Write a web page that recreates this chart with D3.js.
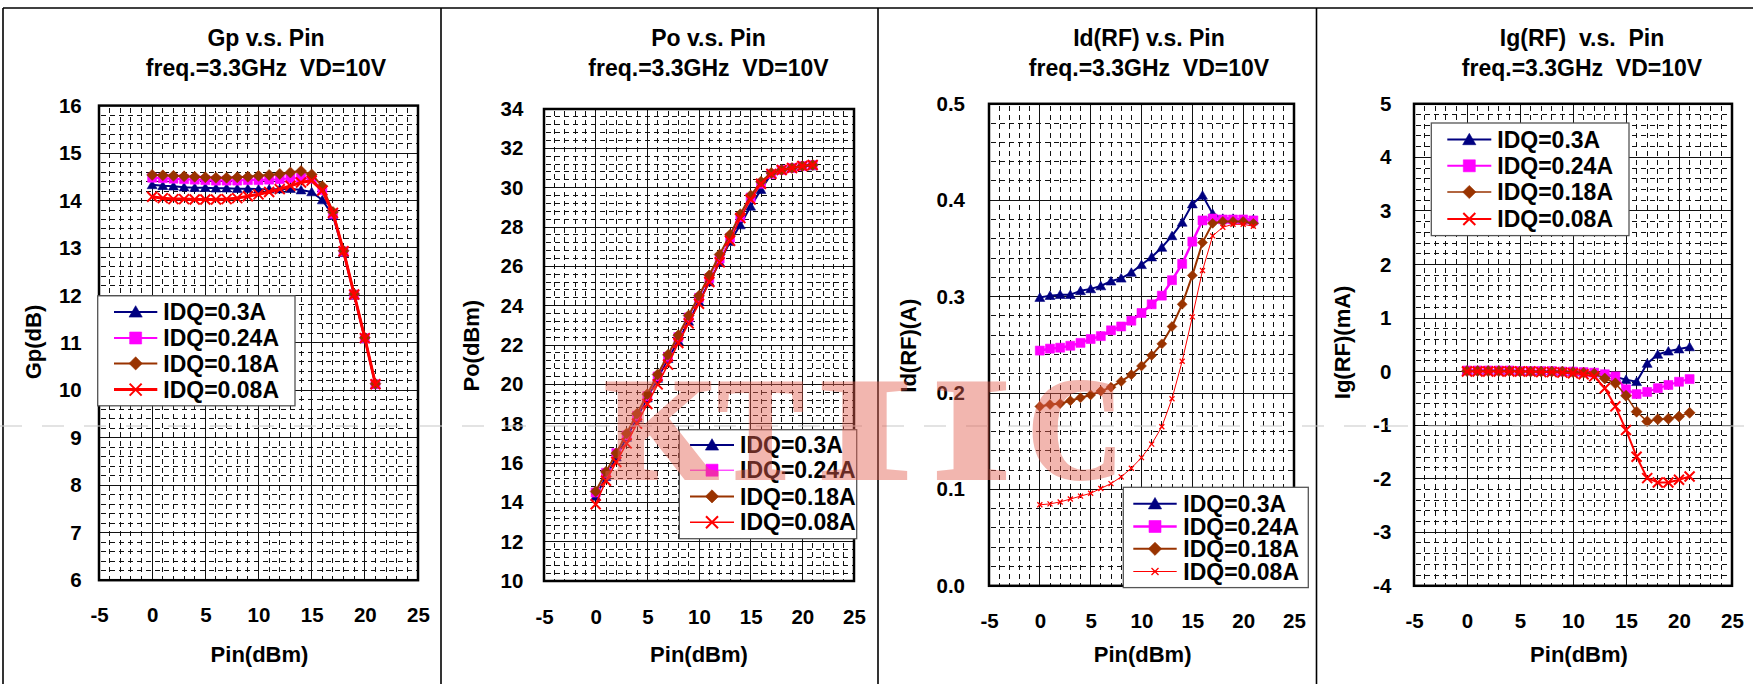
<!DOCTYPE html>
<html><head>
<meta charset="UTF-8">
<script src="https://cdn.jsdelivr.net/npm/d3@7"></script>
<title>IDQ sweep 3.3GHz</title>
<style>
body{margin:0;background:#fff}
svg text{font-family:"Liberation Sans",Arial,sans-serif;font-weight:bold;fill:#000;white-space:pre}
</style>
<script>
// ---- data ----
var pin = [0,1,2,3,4,5,6,7,8,9,10,11,12,13,14,15,16,17,18,19,20,21];
var idqNames = ["IDQ=0.3A","IDQ=0.24A","IDQ=0.18A","IDQ=0.08A"];

var gp03  = [14.33,14.31,14.30,14.28,14.27,14.27,14.26,14.26,14.25,14.25,14.24,14.24,14.24,14.25,14.22,14.18,14.01,13.68,12.90,12.00,11.08,10.12];
var gp024 = [14.48,14.47,14.46,14.45,14.44,14.43,14.42,14.42,14.42,14.43,14.43,14.44,14.45,14.47,14.48,14.46,14.22,13.72,12.93,12.02,11.10,10.13];
var gp018 = [14.54,14.53,14.52,14.51,14.50,14.49,14.48,14.48,14.49,14.50,14.52,14.54,14.56,14.59,14.62,14.55,14.30,13.76,12.94,12.03,11.11,10.14];
var gp008 = [14.08,14.05,14.03,14.03,14.02,14.02,14.02,14.03,14.05,14.09,14.13,14.18,14.24,14.31,14.38,14.42,14.21,13.74,12.93,12.02,11.10,10.13];

var po03  = [14.3,15.3,16.3,17.3,18.3,19.3,20.3,21.3,22.2,23.2,24.2,25.2,26.2,27.25,28.1,29.05,29.9,30.7,30.9,31.0,31.1,31.1];
var po024 = [14.5,15.5,16.5,17.4,18.4,19.4,20.4,21.4,22.4,23.4,24.4,25.4,26.4,27.45,28.5,29.5,30.2,30.7,30.9,31.0,31.1,31.15];
var po018 = [14.55,15.55,16.5,17.5,18.5,19.5,20.5,21.5,22.5,23.5,24.5,25.55,26.6,27.6,28.65,29.6,30.3,30.75,30.9,31.0,31.1,31.15];
var po008 = [13.9,15.1,16.05,17.0,18.0,19.0,20.0,21.0,22.1,23.1,24.1,25.2,26.2,27.3,28.45,29.4,30.2,30.7,30.9,31.0,31.1,31.15];

var id03  = [0.299,0.301,0.302,0.302,0.306,0.308,0.311,0.316,0.319,0.325,0.333,0.341,0.351,0.363,0.377,0.396,0.405,0.386,0.381,0.381,0.380,0.380];
var id024 = [0.244,0.246,0.247,0.249,0.252,0.256,0.259,0.265,0.269,0.275,0.283,0.292,0.301,0.317,0.334,0.357,0.379,0.381,0.380,0.380,0.380,0.379];
var id018 = [0.186,0.188,0.189,0.192,0.195,0.198,0.202,0.206,0.212,0.219,0.228,0.239,0.251,0.269,0.292,0.322,0.356,0.376,0.378,0.378,0.378,0.376];
var id008 = [0.084,0.085,0.087,0.090,0.093,0.096,0.101,0.106,0.113,0.122,0.133,0.147,0.165,0.194,0.233,0.279,0.327,0.363,0.372,0.375,0.375,0.373];

var ig03  = [0.02,0.02,0.02,0.02,0.02,0.01,0.01,0.01,0.01,0.0,0.0,-0.01,-0.02,-0.05,-0.10,-0.15,-0.19,0.15,0.32,0.38,0.42,0.46];
var ig024 = [0.02,0.02,0.02,0.02,0.02,0.01,0.01,0.01,0.01,0.0,0.0,-0.01,-0.02,-0.05,-0.09,-0.33,-0.42,-0.38,-0.31,-0.25,-0.19,-0.14];
var ig018 = [0.01,0.01,0.01,0.01,0.01,0.0,0.0,0.0,0.0,0.0,-0.01,-0.02,-0.04,-0.13,-0.22,-0.45,-0.75,-0.93,-0.89,-0.88,-0.84,-0.77];
var ig008 = [0.0,0.0,0.0,0.0,0.0,0.0,0.0,-0.01,-0.01,-0.02,-0.03,-0.05,-0.09,-0.31,-0.65,-1.09,-1.59,-1.99,-2.07,-2.07,-2.02,-1.96];

var xTicks  = [-5,0,5,10,15,20,25];
var gpTicks = [6,7,8,9,10,11,12,13,14,15,16];
var poTicks = [10,12,14,16,18,20,22,24,26,28,30,32,34];
var idTicks = [0.0,0.1,0.2,0.3,0.4,0.5];
var igTicks = [-4,-3,-2,-1,0,1,2,3,4,5];

var colors  = ["#000080","#ff00ff","#993300","#ff0000"];
var markers = ["triangle","square","diamond","x"];
</script>
</head>
<body>
<svg id="vis" width="1753" height="684"></svg>
<script>
var svg = d3.select("#vis");
svg.append("rect").attr("width",1753).attr("height",684).attr("fill","#fff");

// marker shapes centred on 0,0
function markerPath(type, s){
	var h = s/2;
	if(type=="triangle") return "M0,"+(-h*1.05)+"L"+(h*1.1)+","+(h*0.85)+"L"+(-h*1.1)+","+(h*0.85)+"Z";
	if(type=="square") return "M"+(-h)+","+(-h)+"H"+h+"V"+h+"H"+(-h)+"Z";
	if(type=="diamond") return "M0,"+(-h*1.1)+"L"+(h*1.1)+",0L0,"+(h*1.1)+"L"+(-h*1.1)+",0Z";
	return "M"+(-h)+","+(-h)+"L"+h+","+h+"M"+h+","+(-h)+"L"+(-h)+","+h;
}

function drawMarker(g, type, s, color, sw, cx, cy){
	var m = g.append("path").attr("d", markerPath(type,s))
		.attr("transform","translate("+cx+","+cy+")");
	if(type=="x") m.attr("fill","none").attr("stroke",color).attr("stroke-width",sw);
	else m.attr("fill",color).attr("stroke",color).attr("stroke-width",0.6);
}

function fmtNum(dec){
	return function(d){ return dec ? d.toFixed(dec) : String(d); };
}

function drawPanel(p){
	var g = svg.append("g");
	var x = d3.scaleLinear().domain([-5,25]).range([p.left,p.right]);
	var y = d3.scaleLinear().domain([p.yTicks[0], p.yTicks[p.yTicks.length-1]]).range([p.bottom,p.top]);

	// minor grid (dashed), 5 subdivisions each way
	var minorX = d3.range(-5,25,1).filter(function(d){ return d%5!=0; });
	var ySt = (p.yTicks[1]-p.yTicks[0])/5;
	var nY = Math.round((p.yTicks[p.yTicks.length-1]-p.yTicks[0])/ySt);
	var minorY = d3.range(1,nY).filter(function(k){ return k%5!=0; }).map(function(k){ return p.yTicks[0]+k*ySt; });
	var gMin = g.append("g").attr("stroke","#111").attr("stroke-width",1)
		.attr("stroke-dasharray","5,4").attr("shape-rendering","crispEdges");
	minorX.forEach(function(d){
		gMin.append("line").attr("x1",x(d)).attr("x2",x(d)).attr("y1",p.top+2).attr("y2",p.bottom);
	});
	minorY.forEach(function(d){
		gMin.append("line").attr("x1",p.left+2).attr("x2",p.right).attr("y1",y(d)).attr("y2",y(d));
	});

	// major grid
	var gMaj = g.append("g").attr("stroke","#111").attr("stroke-width",1).attr("shape-rendering","crispEdges");
	xTicks.forEach(function(d){
		gMaj.append("line").attr("x1",x(d)).attr("x2",x(d)).attr("y1",p.top).attr("y2",p.bottom);
	});
	p.yTicks.forEach(function(d){
		gMaj.append("line").attr("x1",p.left).attr("x2",p.right).attr("y1",y(d)).attr("y2",y(d));
	});

	// plot frame
	g.append("rect").attr("x",p.left).attr("y",p.top)
		.attr("width",p.right-p.left).attr("height",p.bottom-p.top)
		.attr("fill","none").attr("stroke","#000").attr("stroke-width",2.5);

	// axes (labels only)
	var ya = d3.axisLeft(y).tickValues(p.yTicks).tickSize(0)
		.tickPadding(p.left-p.tickRight).tickFormat(fmtNum(p.yDec));
	var gy = g.append("g").attr("transform","translate("+p.left+",0)").call(ya);
	gy.select(".domain").remove();
	gy.selectAll("text").style("font-size","20.5px").attr("fill","#000");

	var xa = d3.axisBottom(x).tickValues(xTicks).tickSize(0)
		.tickPadding(p.xBase-p.bottom-14.6).tickFormat(fmtNum(0));
	var gx = g.append("g").attr("transform","translate(0,"+p.bottom+")").call(xa);
	gx.select(".domain").remove();
	gx.selectAll("text").style("font-size","20.5px").attr("fill","#000");

	// titles
	g.append("text").attr("x",p.titleX).attr("y",46).attr("text-anchor","middle")
		.style("font-size","23px").text(p.title);
	g.append("text").attr("x",p.titleX).attr("y",76).attr("text-anchor","middle")
		.style("font-size","23px").text("freq.=3.3GHz  VD=10V");
	g.append("text").attr("x",p.xTitleX).attr("y",662).attr("text-anchor","middle")
		.style("font-size","22px").text("Pin(dBm)");
	g.append("text").attr("transform","translate("+p.yTitleX+","+p.yTitleY+") rotate(-90)")
		.attr("text-anchor","middle").style("font-size","22px").text(p.yTitle);

	// series
	p.series.forEach(function(vals,i){
		var line = d3.line().x(function(d,j){ return x(pin[j]); }).y(function(d){ return y(d); });
		g.append("path").attr("d",line(vals)).attr("fill","none")
			.attr("stroke",colors[i]).attr("stroke-width",p.lw[i]).attr("stroke-linejoin","round");
		var gm = g.append("g");
		vals.forEach(function(v,j){
			drawMarker(gm, markers[i], p.ms[i], colors[i], p.xw, x(pin[j]), y(v));
		});
	});

	// legend
	var L = p.legend;
	var gl = g.append("g");
	gl.append("rect").attr("x",L.x).attr("y",L.y).attr("width",L.w).attr("height",L.h)
		.attr("fill","#fff").attr("stroke","#555").attr("stroke-width",1.3);
	idqNames.forEach(function(name,i){
		var ry = L.rows[i];
		gl.append("line").attr("x1",L.lx1).attr("x2",L.lx2).attr("y1",ry).attr("y2",ry)
			.attr("stroke",colors[i]).attr("stroke-width",p.lw[i]);
		drawMarker(gl, markers[i], i==3 ? p.ms[i]+2 : 12, colors[i], p.xw, (L.lx1+L.lx2)/2, ry);
		gl.append("text").attr("x",L.tx).attr("y",ry).attr("dy","0.36em")
			.style("font-size","23px").text(name);
	});
}

drawPanel({left:99,right:418,top:105.6,bottom:580.2,yTicks:gpTicks,yDec:0,tickRight:81.7,xBase:622,
	title:"Gp v.s. Pin",titleX:266,xTitleX:259.5,yTitle:"Gp(dB)",yTitleX:41,yTitleY:342,
	series:[gp03,gp024,gp018,gp008],lw:[2,2,2,3],ms:[9,9,10,10],xw:2,
	legend:{x:97.7,y:295.8,w:197.3,h:110,rows:[312,338,363.4,389.6],lx1:114,lx2:157.3,tx:163.3}});

drawPanel({left:544,right:854,top:109,bottom:581,yTicks:poTicks,yDec:0,tickRight:523.3,xBase:624,
	title:"Po v.s. Pin",titleX:708.5,xTitleX:699,yTitle:"Po(dBm)",yTitleX:478.5,yTitleY:345.7,
	series:[po03,po024,po018,po008],lw:[2,1,2,1.5],ms:[9,9,10,10],xw:2,
	legend:{x:679.3,y:429.7,w:177.4,h:109,rows:[445,470.2,496.4,522.2],lx1:690,lx2:734,tx:740}});

drawPanel({left:989,right:1294,top:103.8,bottom:585.8,yTicks:idTicks,yDec:1,tickRight:965,xBase:628,
	title:"Id(RF) v.s. Pin",titleX:1149,xTitleX:1142.6,yTitle:"Id(RF)(A)",yTitleX:916.4,yTitleY:345.7,
	series:[id03,id024,id018,id008],lw:[2,2.5,2,1],ms:[9,9,9,5],xw:1.3,
	legend:{x:1123.3,y:487.3,w:185,h:100.3,rows:[503.8,526.5,548.8,571.5],lx1:1133.3,lx2:1176.7,tx:1183.3}});

drawPanel({left:1414,right:1732,top:103.8,bottom:585.8,yTicks:igTicks,yDec:0,tickRight:1391.3,xBase:628,
	title:"Ig(RF)  v.s.  Pin",titleX:1582,xTitleX:1579,yTitle:"Ig(RF)(mA)",yTitleX:1350.4,yTitleY:342.4,
	series:[ig03,ig024,ig018,ig008],lw:[2,2,1.5,2],ms:[9,9,10,10],xw:2,
	legend:{x:1431.3,y:123,w:197.7,h:112.6,rows:[139.6,165.8,192,219],lx1:1447.3,lx2:1491.3,tx:1497.3}});

// panel frames
var fr = svg.append("g").attr("stroke","#000").attr("stroke-width",1.6).attr("fill","none");
fr.append("line").attr("x1",3).attr("x2",1753).attr("y1",8).attr("y2",8);
[3,441,878,1316.5].forEach(function(d){
	fr.append("line").attr("x1",d).attr("x2",d).attr("y1",8).attr("y2",684);
});

// faint watermark rule and letters
svg.append("line").attr("x1",0).attr("x2",1753).attr("y1",426).attr("y2",426)
	.attr("stroke","#ccc").attr("stroke-width",1.5).attr("stroke-dasharray","22,20").attr("opacity",0.7);
var wm = svg.append("g").attr("opacity",0.45);
[["K",605,113],["T",718,85],["I",817,95],["I",933,77],["C",1028,95]].forEach(function(l){
	wm.append("text").attr("x",l[1]).attr("y",478).attr("textLength",l[2]).attr("lengthAdjust","spacingAndGlyphs")
		.style("font-family","'Liberation Serif',serif").style("font-size","145px")
		.style("fill","rgb(228,95,80)").style("stroke","rgb(228,95,80)").style("stroke-width","4px")
		.text(l[0]);
});
</script>
</body></html>
